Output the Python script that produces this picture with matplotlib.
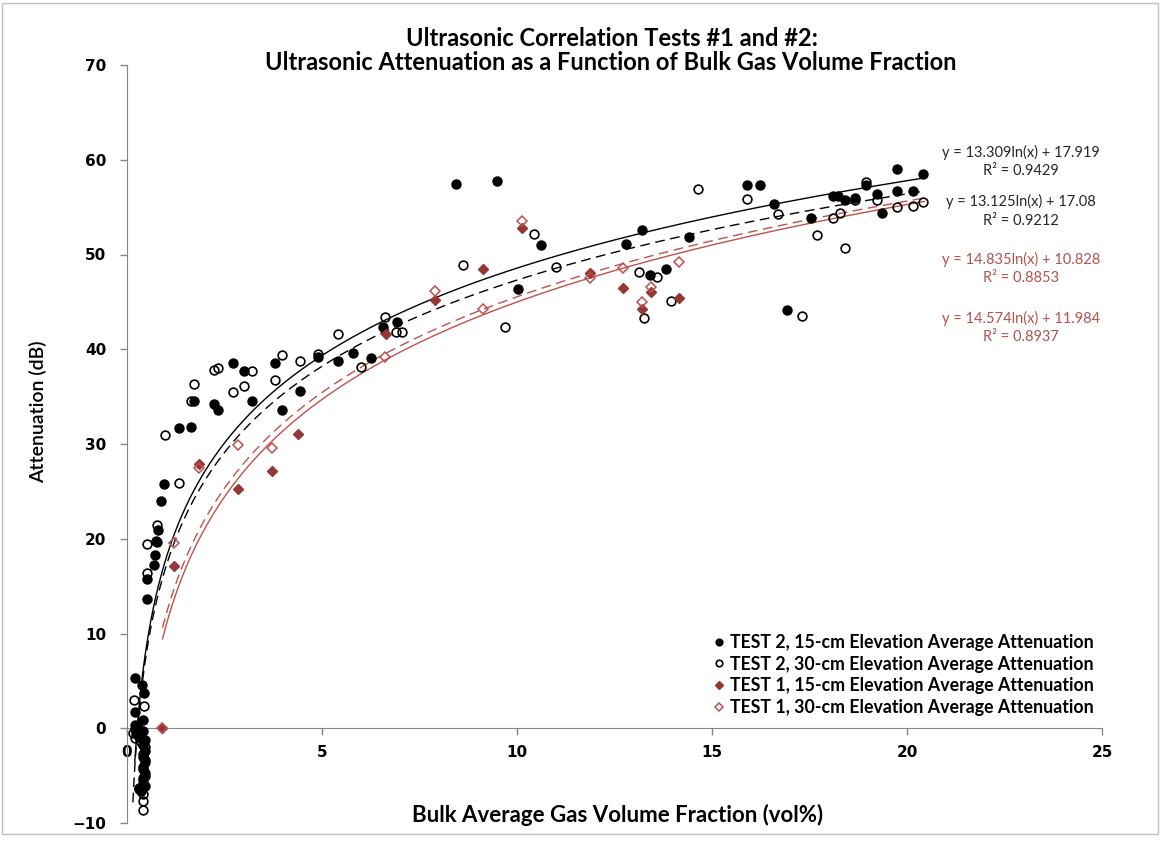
import matplotlib
matplotlib.use("Agg")
import matplotlib.pyplot as plt
from matplotlib.patches import Rectangle
import numpy as np

plt.rcParams['font.family'] = ['Lato', 'DejaVu Sans']

# TEST 2, 15-cm elevation (filled black circles)
t2_15_x = [0.20, 0.39, 0.44, 0.20, 0.42,
           0.20, 0.28, 0.22, 0.30, 0.40, 0.45, 0.40, 0.45, 0.40, 0.45, 0.40, 0.45, 0.42, 0.40, 0.30, 0.36, 0.46, 0.25,
           0.51, 0.51, 0.70, 0.72, 0.76, 0.80, 0.86, 0.96, 1.33, 1.63, 1.73, 2.23, 2.33, 2.71, 3.01, 3.21,
           3.79, 3.98, 4.44, 4.91, 5.40, 5.79, 6.25, 6.57, 6.93, 8.44, 9.49, 10.02, 10.61, 12.79, 13.20,
           13.41, 13.81, 14.40, 15.91, 16.22, 16.60, 16.93, 17.54, 18.09, 18.24, 18.41, 18.67, 18.95, 19.22,
           19.35, 19.75, 19.75, 20.15, 20.40]
t2_15_y = [5.3, 4.6, 3.7, 1.7, 0.9,
           0.3, 0.0, -0.5, -0.9, -0.3, -1.2, -1.8, -2.4, -3.0, -3.6, -4.1, -4.7, -5.3, -5.9, -6.3, -6.6, -6.1, -0.2,
           13.6, 15.7, 17.2, 18.3, 19.7, 20.9, 24.0, 25.8, 31.7, 31.8, 34.5, 34.2, 33.6, 38.5, 37.7, 34.5,
           38.5, 33.6, 35.6, 39.2, 38.8, 39.6, 39.1, 42.4, 42.9, 57.4, 57.8, 46.4, 51.0, 51.1, 52.6,
           47.8, 48.5, 51.8, 57.3, 57.3, 55.3, 44.1, 53.9, 56.2, 56.2, 55.7, 56.0, 57.3, 56.4,
           54.4, 59.0, 56.7, 56.7, 58.5]

# TEST 2, 30-cm elevation (open black circles)
t2_30_x = [0.19, 0.44, 0.15, 0.20, 0.35, 0.45, 0.40, 0.45, 0.42, 0.45, 0.40, 0.30, 0.42, 0.42, 0.42, 0.20,
           0.51, 0.50, 0.74, 0.78, 0.97, 1.33, 1.63, 1.73, 2.23, 2.33, 2.71, 3.01, 3.21, 3.79, 3.98, 4.44,
           4.91, 5.40, 5.99, 6.61, 6.91, 7.04, 8.61, 9.69, 10.44, 11.00, 13.12, 13.26, 13.58, 13.94, 14.63,
           15.91, 16.70, 17.32, 17.68, 18.11, 18.28, 18.40, 18.67, 18.95, 19.22, 19.74, 20.15, 20.40]
t2_30_y = [3.0, 2.4, -0.5, -1.0, -1.5, -2.0, -2.7, -3.3, -4.3, -5.0, -5.5, -6.4, -6.9, -7.7, -8.6, -0.1,
           16.4, 19.4, 19.8, 21.4, 30.9, 25.9, 34.5, 36.3, 37.8, 38.0, 35.5, 36.1, 37.7, 36.8, 39.4, 38.8,
           39.5, 41.6, 38.1, 43.4, 41.8, 41.8, 48.9, 42.3, 52.2, 48.7, 48.2, 43.3, 47.6, 45.1, 56.9,
           55.9, 54.3, 43.5, 52.1, 53.8, 54.4, 50.7, 55.7, 57.6, 55.7, 55.0, 55.1, 55.5]

# TEST 1, 15-cm elevation (filled red diamonds)
t1_15_x = [0.91, 1.21, 1.85, 2.85, 3.71, 4.39, 6.63, 7.90, 9.14, 10.13, 11.87, 12.71, 13.21, 13.43, 14.16]
t1_15_y = [0.0, 17.1, 27.9, 25.3, 27.2, 31.1, 41.6, 45.2, 48.5, 52.8, 48.1, 46.5, 44.3, 46.0, 45.4]

# TEST 1, 30-cm elevation (open red diamonds)
t1_30_x = [0.91, 1.21, 1.85, 2.84, 3.71, 6.62, 7.90, 9.13, 10.13, 11.87, 12.71, 13.21, 13.43, 14.16]
t1_30_y = [0.0, 19.6, 27.5, 29.9, 29.6, 39.2, 46.2, 44.3, 53.5, 47.5, 48.6, 45.0, 46.6, 49.2]

# log trendlines y = a ln(x) + b, as printed on the chart
fit_a = [13.309, 13.125, 14.835, 14.574]
fit_b = [17.919, 17.08, 10.828, 11.984]
fit_r2 = ["0.9429", "0.9212", "0.8853", "0.8937"]

red_mk = '#953735'
red_ln = '#C0504D'
red_tx = '#B5524E'

fig = plt.figure(figsize=(11.61, 8.42), dpi=100)
ax = fig.add_axes([127/1161, 1 - 823/842, (1102 - 127)/1161, (823 - 65)/842])

ax.plot(t2_15_x, t2_15_y, 'o', color='black', ms=6.5, mec='black',
        label="TEST 2, 15-cm Elevation Average Attenuation", zorder=4)
ax.plot(t2_30_x, t2_30_y, 'o', mfc='none', mec='black', mew=1.2, ms=6.3,
        label="TEST 2, 30-cm Elevation Average Attenuation", zorder=4)
ax.plot(t1_15_x, t1_15_y, 'D', color=red_mk, ms=5,
        label="TEST 1, 15-cm Elevation Average Attenuation", zorder=4)
ax.plot(t1_30_x, t1_30_y, 'D', mfc='none', mec=red_ln, mew=1.1, ms=5,
        label="TEST 1, 30-cm Elevation Average Attenuation", zorder=4)

x_end = max(t2_15_x + t2_30_x + t1_15_x + t1_30_x) + 0.05
starts = [min(t2_15_x), min(t2_30_x), min(t1_15_x), min(t1_30_x)]
styles = [('black', '-'), ('black', (0, (7, 4))), (red_ln, '-'), (red_ln, (0, (7, 4)))]
for a, b, x0, (c, ls) in zip(fit_a, fit_b, starts, styles):
    xx = np.linspace(x0, x_end, 400)
    ax.plot(xx, a * np.log(xx) + b, color=c, ls=ls, lw=1.0, zorder=3)

ax.set_xlim(0, 25)
ax.set_ylim(-10, 70)
ax.set_xticks(range(0, 26, 5))
ax.set_yticks(range(-10, 71, 10))
for s in ['top', 'right']:
    ax.spines[s].set_visible(False)
ax.spines['bottom'].set_position(('data', 0))
ax.spines['left'].set_color('#868686')
ax.spines['bottom'].set_color('#868686')
ax.tick_params(colors='#868686', length=5, width=1, labelcolor='black', labelsize=11)
for lab in ax.get_xticklabels() + ax.get_yticklabels():
    lab.set_fontweight('bold')
    lab.set_family(['Verdana', 'DejaVu Sans'])
ax.tick_params(axis='x', pad=7)
ax.tick_params(axis='y', pad=10)

leg = ax.legend(loc='upper left', bbox_to_anchor=(705/1161, 1 - 625/842),
                bbox_transform=fig.transFigure, frameon=False, markerscale=0.75,
                handlelength=0.6, handletextpad=0.3, labelspacing=0.27, borderpad=0,
                prop={'weight': 'bold', 'size': 12.8})

# equations
eq_y = [(152, 171), (201, 221), (259, 278), (318, 337)]
eq_c = ['#262626', '#262626', red_tx, red_tx]
for a, b, r2, (y1, y2), c in zip(fit_a, fit_b, fit_r2, eq_y, eq_c):
    fig.text(1021/1161, 1 - y1/842, f"y = {a:g}ln(x) + {b:g}", ha='center', va='center',
             fontsize=10.5, color=c)
    fig.text(1021/1161, 1 - y2/842, f"R² = {r2}", ha='center', va='center',
             fontsize=10.5, color=c)

fig.text(612/1161, 1 - 38/842, "Ultrasonic Correlation Tests #1 and #2:", ha='center', va='center',
         fontsize=17, fontweight='bold')
fig.text(611/1161, 1 - 62/842, "Ultrasonic Attenuation as a Function of Bulk Gas Volume Fraction",
         ha='center', va='center', fontsize=17, fontweight='bold')
fig.text(618/1161, 1 - 815/842, "Bulk Average Gas Volume Fraction (vol%)", ha='center', va='center',
         fontsize=16, fontweight='bold')
fig.text(38/1161, 1 - 412/842, "Attenuation (dB)", ha='center', va='center', rotation=90,
         fontsize=14, fontweight='semibold')

fig.patches.append(Rectangle((2/1161, 1 - 834/842), 1156/1161, 831/842, transform=fig.transFigure,
                             fill=False, edgecolor='#BFBFBF', lw=1))

fig.savefig("out.png", dpi=100)
